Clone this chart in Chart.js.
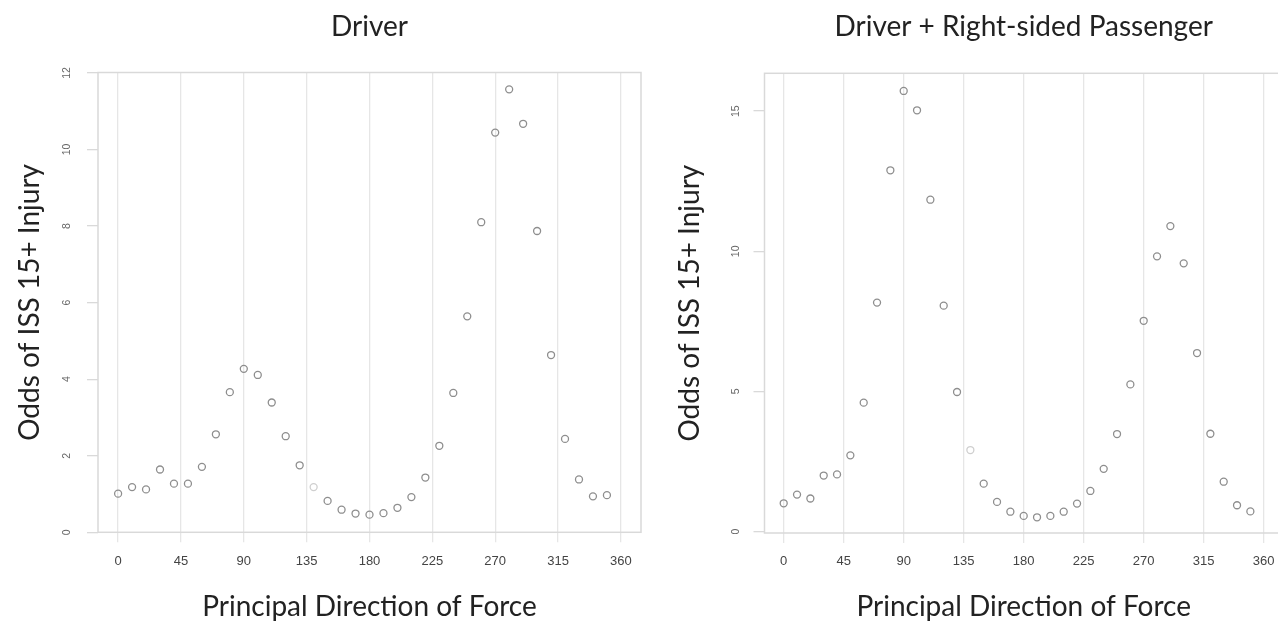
<!DOCTYPE html>
<html>
<head>
<meta charset="utf-8">
<script src="https://cdn.jsdelivr.net/npm/chart.js@4.4.1/dist/chart.umd.min.js"></script>
<style>
    html, body { margin: 0; padding: 0; background: #fff; overflow: hidden; width: 1278px; height: 624px; }
    canvas { position: absolute; top: 0; }
    #driver { left: 0; }
    #passenger { left: 660px; }
</style>
</head>
<body>
<canvas id="driver" width="660" height="624"></canvas>
<canvas id="passenger" width="630" height="624"></canvas>
<script>
// Principal direction of force, every 10 degrees
const angles = [0, 10, 20, 30, 40, 50, 60, 70, 80, 90, 100, 110, 120, 130, 140, 150, 160, 170,
    180, 190, 200, 210, 220, 230, 240, 250, 260, 270, 280, 290, 300, 310, 320, 330, 340, 350];
const driverOdds = [1.01, 1.18, 1.12, 1.64, 1.27, 1.27, 1.71, 2.56, 3.66, 4.27, 4.11, 3.39, 2.51, 1.75, 1.18, 0.82, 0.59, 0.49,
    0.46, 0.50, 0.64, 0.92, 1.43, 2.26, 3.64, 5.64, 8.10, 10.44, 11.57, 10.67, 7.87, 4.63, 2.44, 1.38, 0.94, 0.97];
const passengerOdds = [1.01, 1.32, 1.18, 2.00, 2.04, 2.72, 4.60, 8.17, 12.89, 15.72, 15.03, 11.84, 8.06, 4.98, 2.91, 1.71, 1.06, 0.71,
    0.56, 0.51, 0.56, 0.71, 1.00, 1.45, 2.24, 3.48, 5.25, 7.52, 9.82, 10.90, 9.57, 6.37, 3.49, 1.78, 0.94, 0.72];
const xTicks = [0, 45, 90, 135, 180, 225, 270, 315, 360];
const driverYTicks = [0, 2, 4, 6, 8, 10, 12];
const passengerYTicks = [0, 5, 10, 15];
// the one marker drawn lighter in both panels
const fadedAngle = 140;

const TITLE_FONT = "Lato, 'Open Sans', sans-serif";
const TICK_FONT = "'Liberation Sans', Arial, sans-serif";
const TITLE_SIZE = 28;

// light frame around the plot region (R style box)
const framePlugin = {
    id: "frame",
    beforeDatasetsDraw(chart) {
        const { ctx, chartArea: a } = chart;
        ctx.save();
        ctx.strokeStyle = "#d9d9d9";
        ctx.lineWidth = 1.5;
        ctx.strokeRect(a.left, a.top, a.right - a.left, a.bottom - a.top);
        ctx.restore();
    },
};

function makePanel(id, title, values, yTicks, geo) {
    const points = angles.map((a, i) => ({ x: a, y: values[i] }));
    return new Chart(document.getElementById(id), {
        type: "scatter",
        data: {
            datasets: [{
                data: points,
                showLine: false,
                pointRadius: 3.5,
                pointBorderWidth: 1.3,
                pointBackgroundColor: "rgba(0,0,0,0)",
                pointBorderColor: (ctx) => (ctx.raw && ctx.raw.x === fadedAngle ? "#cfcfcf" : "#8e8e8e"),
            }],
        },
        options: {
            responsive: false,
            animation: false,
            events: [],
            layout: { padding: { left: 0, top: 0, right: geo.padRight, bottom: 0 } },
            plugins: {
                legend: { display: false },
                tooltip: { enabled: false },
                title: {
                    display: true,
                    text: title,
                    fullSize: false,
                    color: "#222",
                    font: { family: TITLE_FONT, size: TITLE_SIZE, weight: "normal" },
                    padding: { top: 10.2, bottom: geo.top - 10.2 - TITLE_SIZE * 1.2 },
                },
            },
            scales: {
                x: {
                    type: "linear",
                    min: -14.4,
                    max: 374.4,
                    afterBuildTicks: (s) => { s.ticks = xTicks.map((v) => ({ value: v })); },
                    afterFit: (s) => { s.height = 624 - geo.bottom; },
                    border: { display: false },
                    grid: { color: "#e6e6e6", lineWidth: 1.3, tickLength: 10 },
                    ticks: {
                        autoSkip: false,
                        maxRotation: 0,
                        padding: 11,
                        color: "#444",
                        font: { family: TICK_FONT, size: 13 },
                    },
                    title: {
                        display: true,
                        text: "Principal Direction of Force",
                        color: "#222",
                        font: { family: TITLE_FONT, size: 28 },
                        padding: { top: 0, bottom: 0 },
                    },
                },
                y: {
                    min: geo.yMin,
                    max: geo.yMax,
                    afterBuildTicks: (s) => { s.ticks = yTicks.map((v) => ({ value: v })); },
                    afterFit: (s) => { s.width = geo.left; },
                    border: { display: false },
                    grid: { drawOnChartArea: false, color: "#d9d9d9", lineWidth: 1.3, tickLength: 11 },
                    ticks: {
                        minRotation: 90,
                        maxRotation: 90,
                        crossAlign: "center",
                        padding: geo.yTickPad,
                        color: "#666",
                        font: { family: TICK_FONT, size: 10.5 },
                    },
                    title: {
                        display: true,
                        text: "Odds of ISS 15+ Injury",
                        color: "#222",
                        font: { family: TITLE_FONT, size: 28 },
                        padding: { top: 13, bottom: 0 },
                    },
                },
            },
        },
        plugins: [framePlugin],
    });
}

makePanel("driver", "Driver", driverOdds, driverYTicks,
    { left: 98, top: 72.5, bottom: 532.3, padRight: 19, yMin: 0, yMax: 12.01, yTickPad: 14.5 });
makePanel("passenger", "Driver + Right-sided Passenger", passengerOdds, passengerYTicks,
    { left: 104.5, top: 73.3, bottom: 533, padRight: 7.1, yMin: -0.05, yMax: 16.35, yTickPad: 12 });
</script>
</body>
</html>
